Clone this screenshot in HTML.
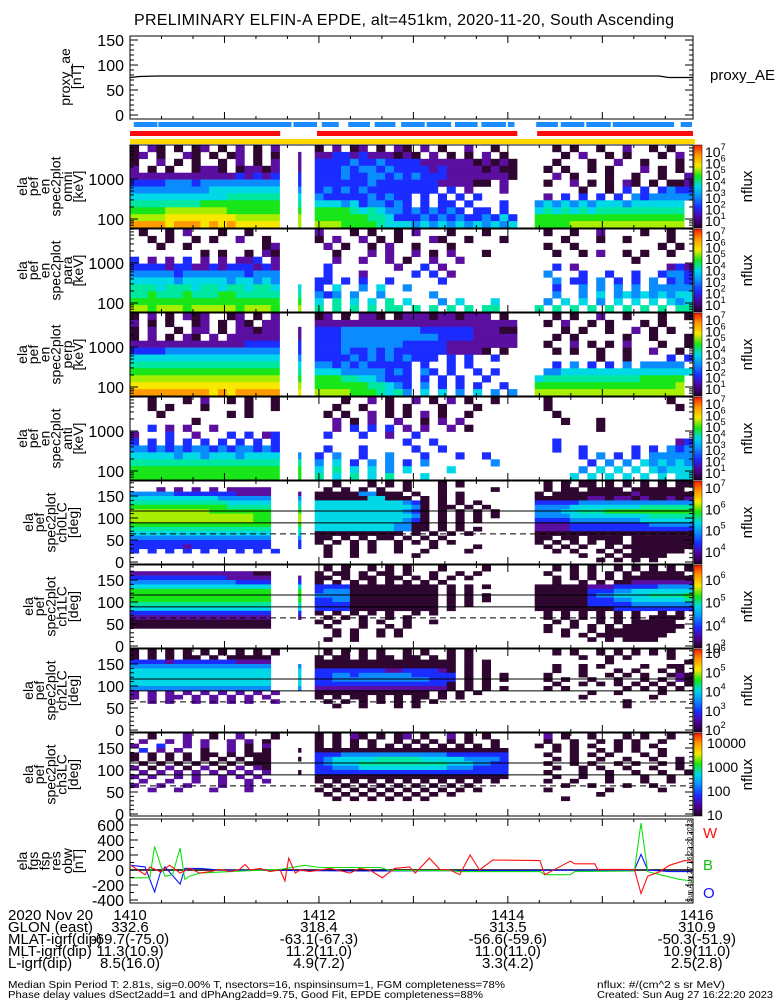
<!DOCTYPE html>
<html><head><meta charset="utf-8">
<style>
html,body{margin:0;padding:0;background:#fff;}
svg{display:block;font-family:"Liberation Sans",sans-serif;}
text{fill:#000;}
</style></head>
<body>
<svg id="chart" width="775" height="1000" viewBox="0 0 775 1000" xmlns="http://www.w3.org/2000/svg">
<rect x="0" y="0" width="775" height="1000" fill="#fff"/>
<text x="404" y="25" font-size="16" text-anchor="middle" textLength="540">PRELIMINARY ELFIN-A EPDE, alt=451km, 2020-11-20, South Ascending</text>
<g id="g"></g>
</svg>
<script>
// ---- data ----
const timeTicks = ["1410","1412","1414","1416"];
const timeTickMin = [0,2,4,6];
const proxyT = [0,0.1,0.3,5.6,5.7,5.96];
const proxyV = [75,77,78,78,75,75];
const blueBarStart = [0.04,0.30,1.73,2.03,2.31,2.59,2.87,3.14,3.44,3.72,4.00,4.30,4.56,4.83,5.11,5.83];
const blueBarEnd   = [0.29,1.71,1.98,2.21,2.54,2.81,3.12,3.40,3.68,3.98,4.07,4.53,4.81,5.09,5.76,5.95];
const redBarStart = [0,1.98,4.31];
const redBarEnd = [1.59,4.10,5.96];
const redT = [0.01,0.16,0.21,0.32,0.42,0.53,0.63,0.74,0.85,0.95,1.06,1.16,1.22,1.27,1.38,1.48,1.59,1.64,1.68,1.75,1.80,1.90,2.12,2.33,2.43,2.54,2.67,2.80,2.96,3.02,3.17,3.28,3.39,3.49,3.60,3.70,3.84,4.34,4.39,4.66,4.71,4.92,4.95,5.13,5.34,5.41,5.48,5.61,5.71,5.87,5.95];
const redV = [63,-63,42,-21,63,-42,21,-42,-21,8,-21,8,75,0,21,-21,0,-146,158,-42,0,-21,21,-42,21,0,-104,21,42,-42,158,8,0,-63,200,0,133,125,-63,117,83,83,8,8,8,-313,-83,-21,63,125,117];
const greenT = [0.01,0.21,0.26,0.32,0.37,0.45,0.53,0.58,0.63,0.74,1.06,1.59,1.85,2.01,2.65,2.75,3.39,3.49,4.34,4.39,4.66,4.71,5.34,5.41,5.48,5.61,5.82,5.95];
const greenV = [-104,-104,313,83,-83,-63,292,-125,-83,-42,-21,8,63,33,33,-8,-8,-21,-21,-63,-63,-21,-13,625,-21,-63,-125,-146];
const blueT = [0.01,0.16,0.26,0.32,0.37,0.53,0.58,0.74,0.95,1.80,2.33,5.34,5.41,5.48,5.71,5.95];
const blueV = [63,42,-292,-42,42,-188,21,21,0,-8,-13,0,208,0,-21,-21];
const energyTickLabels = ["1000","100"];
const energyTickVals = [1000,100];
const paTickLabels = ["150","100","50","0"];
const paTickVals = [150,100,50,0];
const fgsTickVals = [600,400,200,0,-200,-400];
// heatmap grids: rows top->bottom, "seg1|thin|seg2|seg3", chars = color level
const omni = [
"1.21.1.12.1.2.1.2|.|1.2.12.1.21.2.1..2..1.|..1.1..1..2..1.1.",
"12.1..21.1.12.1.1|2|223323222121.2.1.1.2.1|...1.2..1.1...1.2",
"1..2.1.1..1.2.1.2|2|33334334333322222212121|..1...1..2..1...1",
"2.1.1..1221.12212|2|33343443433332322221211|.1.1..1.1...2.1.1.",
"22222222222232323|3|33343344343433322222221|..2.1...1..1..1..2",
"33334443444444444|3|33333343333333222211.2.|.1..2.1.1.21.1.112",
"44444444455555555|4|34343433333333.3.2...2.|.....1..1.3.3.3433",
"55555555555666666|5|43333343433.3.3.3.3....|.2.3.3.3.3.4344444",
"66666666777777777|6|55545344343.3.33.3...3.|45454545554555555",
"77778888888777777|7|77776565443434343.33.3.|56565656666666666",
"88889999999988888|8|77777766533343434334353|77777777777777777",
"aaaa9aaa9a9a99999|8|88877776555454545454545|77778888888888888"];
const para = [
".1..1.2...1..1...|.|2...1.1..1.2...1...1..|.1..1..2....1..1.",
"..1.1..1.1..2..1.|.|1.2..2.1.1...21..1...1.|...1...1..1....1..",
"...1..1........12|.|.2.1..1.2..1...1.......|.1..1.........1.1",
"........1.1..1.21|.|..1...2.2..2.1.2...1...|..1..1.2..1.1..1..",
"3.2.2.3.2.2.223.2|.|..2..2..2.1..2..2......|...........1......",
"33332332232333232|.|.3.......2..3.2.......|..3.2..........232",
"44444344444443444|.|.3...2.....3.3.2......|.4...3..3..3..3443",
"55555455555455454|.|33.3.3..3.....3......|..4.33.4.3.3.4.343",
"66656665665665665|5|3.5..4.5..4..........|..3..4.4.4.4.44444",
"66766676667766666|6|434.4..4.....4.......|..4..4.5.454545455",
"77777777777777777|7|5.6.5.5.6.5...4.5...5.|.4.5.5.4.5.5.5.545",
"88788878888878887|8|6.6.6.6.66.6.6.6.6.66.|6.6.6.6.6.6.6.6.66"];
const perp = [
"1.2.1.212..12.1.2|.|12.1.221.12221221222.1.|..1.1..2..1...1..1",
"2.1.1..12.1.21.22|.|22222222222222222222222.|.1.2..1.1...1.1...",
"1.2..1.22.1.22122|2|33344444444433333322211.|...1.1..1..2.1.1..",
"1.2.1.21.2.222222|2|33344444444444333322222|..1.1.....1..1...1",
"22222222222223333|3|33344444443333322222222|.1..2.1.1.2...1..1",
"33334444444444444|3|33343343433333322221.1.|..1.1..1..1..2..1.",
"55555555555555555|4|33334343434333.3.3..3..|.......1..1....3.3",
"66666666666666666|5|44343433333.3..3.3.....|..3.4.3.3.4.44444",
"77777777777777777|6|55544444343.43.3..3.3..|.44555555555555555",
"88888888888888888|7|77766554333.3.3.3..3...|56666666666677777",
"99999999999999999|8|77777766543.4.3.3.3..3.|77777777777777778",
"aaaaaaaaa9a9aaaaa|9|88887776564.5.5.4.5.4.4|88888888888888888"];
const anti = [
"..1...1.2..1.1..1|.|...1..2.1..2.1.2.1..1..|.1.............1..",
"..1.1...1....1..1|.|..1..1..1.1...1...1....|.1..............1.",
"...1.......1.1...|.|.1.1..2.1.1.2.1..1.....|..1...............",
".......1.........|.|..2.1.2..2..1.2.2.......|...1...1..........",
"..3.2.2..2.......|.|..2.3.3.3.2.2..2.1.....|.......1..........",
"2...3..2...3.3.23|.|.3...3..2..3...........|..................",
"3.3.3.3.3.3.3.3.3|.|..........3..3.........|..3.............23",
"44343434434344343|.|.3...3.....3..3.......|..3..3.....3.3.434",
"55555455455545555|4|3.4..3..4...3...3..3..|.....3.4.3.3.44444",
"66666666666666666|6|4.5.3.4.4.3.4.......4.|......3.4.4.545454",
"77777777777777777|7|5.6.5.5.4.5....5......|.....4.5.5.5.54555",
"77777777777777777|7|6.5.6.5.6...5.........|....5.5.5.5.5.5.55"];
const ch0 = [
".................|.|..1...1.1.1...1.1.....|.1.1.11.1.1.1.1.11",
"...2.2.2.2.22222|.|.1.1.1.1..1...1.....1.|.1.11.1111.111111",
"4444433333332222|2|1111144111.1..1.1.....|1.11111111121111111",
"5555555555444444|4|11111155111.1.1.1.....|111111221221211212",
"6666666666655555|5|5555555555431.1.1.1...|3333344444444444444",
"7777777777766666|6|5555555555541.11.1.1..|4444555555556666666",
"8888888887777777|7|5555555555431.1.1.1.1.|4445566677777777776",
"8888888888888877|8|5555555555541.1.1.1.1.|4444555555555666666",
"8888888888888877|8|5555555555431.1.1.1...|3333444444445555555",
"7777777777777777|7|5555555554411.1.1.....|2222333333333444444",
"6666666666666666|6|5555555554411.1.1.1...|2222333333333333333",
"5555555555555555|5|1111111111.1.1.1.1....|1111111111111111111",
"4444444444444444|4|11.1.1.11.1.1.1.......|11.11.1111.11111111",
"3333333333333333|3|1.1.1.1..1.1.1.1......|1.1.1.1.11.11111111",
"3333332333333333|3|.1..1.1..1...1....1...|.1.1.1..1.11111111",
"3.3.3.3.3.3.3.3.3|.|.1..1.1..1..1....1...|..1.1..1.1.111111",
"|.|.1..1......1.......|.....1..1.11111",
"|.|....................|.......1.1.1.1"];
const ch1 = [
"|.|.1.1..1.1.1...1....1.|..1.1.1..1.1.1.1.1",
"2222222222222211|.|1.11.1.11.1..1..1.1...|.1..1.1.1.1.11111",
"3333333333322222|2|11.1.11.11.1.1.1.1....|..1.1.1.1.11111111",
"4444444444443333|3|1.1.1.1.1.1.1.1.......|..1..1.1.1122222222",
"5555555555555555|5|33331111111111.1.1.1..|1111112223333344444",
"7777777777777777|7|34441111111111.1.1....|111111333445555555",
"7777777777777777|7|44441111111111.1.1.1..|111111344555566667",
"7777777777777777|7|33441111111111.1.1.1..|111111333445555556",
"6666666666666666|6|33331111111111.1.1....|111111333334444444",
"5555555555555555|5|33331111111111.1......|1111111113333333333",
"3333333333333333|3|1.1.1.1.1..1.1.......|.1.1.1.1.1.1..1.1.1",
"2222222222222222|2|.1.1.1..1.1..........|.1.1.1.1.1.1.1111",
"1111111111111111|.|1.1..1.1..1..1.......|..1.1..1.1.11111",
"1111111111111111|.|.1...1..1.1..........|.1..1.1.1.1111111",
"|.|..1.1..1.1.........|.1.1..1.11111111",
"|.|..1.1..1.1.........|...1.1.11111111",
"|.|.1..1..............|......1.1.1111",
"|.||"];
const ch2 = [
"1.1.1.1.1.1.1.1.1|.|.1.1.1.1..1.1..1.1..|..1.1..1.1.1.1.1.",
"1.1.1.11.1.11111|.|1.11.1.11.11.1.1.1..|.....1..1.1....1.",
"3333233333332222|.|1111111111111111.1.1..|........1........1",
"4444444444444444|4|1111111111111111.1.1..|..1..1.1....1..11",
"5555555555555555|5|3333333322333321.1.1..|..1..1...1.1..1.1.1",
"5555555555555555|5|3344344444433333.1.1.1.|.1...1..1.1.1..121",
"5555555555555555|5|3344444444444333.1.1.1.|.1.1..1..1..1.1.21",
"5555555555555555|5|3333333333333331.1.1..|..1..1.1.1.1.1.1.1",
"4444444444444444|4|2222222222222221.1.1.1.|.1.1......1.1.1.1",
"2.2.2.2.2.2.2.2.2|.|1111111111111.1.1.1..|......1..1....1.",
"2.2.22.2.2.2.2.2|.|1.1.11.1.1.11.1.1....|.....1.......1..",
"..2.2..2.2.2.2..2|.|.1.1.1.1.1.1.1........|..........1......",
"|.|..1..1...1.1.......|..........1.....",
"|.||","|.||","|.||","|.||","|.||"];
const ch3 = [
"..1...2..1..2...1|.|1.1.21.1.12.1..2.1.1.|.2.1..1...1.1..1",
".2..2.2.2..2.2.1|.|1.1.1.1..1.1.1.1.1..1.|.1..1..1.1.1..1.",
"2..3..2.2..2.1.2|.|1.1.1.1.1.1.1.1.1.1.1.|1.1.1.1..1.1.1",
".3.2.2..1..2.1.1|1|1111111111111111111111.|..1.1..1.1.1..1",
"1.1.1.1.11.1.111|.|3334444444444443333333.|.1..1.1.1...1.1.",
"1.1.1.1.1.1.1.11|1|3455555666665555544443.|..1.1..1..1..1..1",
".1.1.1.1.1.1.111|.|3455566666666665554433.|.1..1.1..1.1..1.1",
"2.1.2.1.2.1.2.21|.|3344455555555554443333.|..1..1.1..1..1..1.",
".2.2.2.2.2.2.2.2|1|3333333333333333333333.|.1...1..1..1..1..1",
"2.2..2.2..2.2.2.|.|1111111111111111111111.|..1..1..1...1..1.",
".2..2..2..2..2.2|.|1.1.1.1.1.1.1.1.1.1.1.|.1..1...1...1..1..",
"2..2..2...2..2..|.|.1.1.1.1.1.1.1.1.1...|...1..1...1..1...",
"..2..2...2...2..|.|1.1.1.1.1.1.1.1.1.1...|.1......1.....1.",
"|.|.1.1.1.1.1.1.1.1....|.......1........",
"|.|..1.1.1.1.1.1.......|...1............",
"|.||","|.||","|.||"];
const cbLabels1 = ["7","6","5","4","3","2","1"];
const cbLabels5 = ["7","6","5","4"];
const cbLabels6 = ["6","5","4","3"];
const cbLabels7 = ["6","5","4","3","2"];
const cbLabels8 = ["10000","1000","100","10"];

// ---- layout ----
const NS="http://www.w3.org/2000/svg";
const G=document.getElementById('g');
const X0=130,X1=693,TMAX=5.96;
const xs=t=>X0+t*(X1-X0)/TMAX;
const NCOL=64, dtCol=TMAX/NCOL;
const colors={'1':'#2e0630','2':'#5a0fa0','3':'#1a2cff','4':'#0a8cff','5':'#00d8e8','6':'#00e8a0','7':'#18e618','8':'#a8ee00','9':'#f8e800','a':'#ff9a00','b':'#ff1a00'};
function mk(tag,a,parent){const e=document.createElementNS(NS,tag);for(const k in a)e.setAttribute(k,a[k]);(parent||G).appendChild(e);return e;}
function txt(x,y,s,size,anchor,extra){const e=mk('text',Object.assign({x:x,y:y,'font-size':size,'text-anchor':anchor||'start'},extra||{}));e.textContent=s;return e;}

// proxy_ae panel
const PY0=36,PY1=119;
const py=v=>115-v*0.5;
let e=mk('rect',{x:X0,y:PY0,width:X1-X0,height:PY1-PY0,fill:'none',stroke:'#000','stroke-width':1});


e=mk('polyline',{points:proxyT.map((t,i)=>xs(t)+','+py(proxyV[i])).join(' '),fill:'none',stroke:'#000','stroke-width':1.2});


[0,50,100,150].forEach(v=>{
  mk('line',{x1:X0,x2:X0+8,y1:py(v),y2:py(v),stroke:'#000'});
  mk('line',{x1:X1-8,x2:X1,y1:py(v),y2:py(v),stroke:'#000'});
  const t=txt(124,py(v)+6,String(v),16,'end');
  
  
});
for(let v=10;v<150;v+=10){if(v%50){mk('line',{x1:X0,x2:X0+4,y1:py(v),y2:py(v),stroke:'#000'});mk('line',{x1:X1-4,x2:X1,y1:py(v),y2:py(v),stroke:'#000'});}}
e=txt(710,80,'proxy_AE',15);



function ylabel(lines,cy,x0,name){
  const g=mk('g',{});
  
  
  lines.forEach((s,i)=>{const x=x0+i*11.2;mk('text',{x:x,y:cy,'font-size':14,'text-anchor':'middle',transform:'rotate(-90 '+x+' '+cy+')'},g).textContent=s;});
}
ylabel(['proxy_ae','[nT]'],77,70,'proxy-ae-y-title');

// status bars
blueBarStart.forEach((s,i)=>{const r=mk('rect',{x:xs(s),y:122,width:xs(blueBarEnd[i])-xs(s),height:5,fill:'#1a8cff'});

});
redBarStart.forEach((s,i)=>{const r=mk('rect',{x:xs(s),y:131,width:xs(redBarEnd[i])-xs(s),height:5,fill:'#ff0a0a'});

});
e=mk('rect',{x:X0,y:139,width:X1-X0+2,height:5,fill:'#ffd800'});



function timeTicksOn(top,bot){
  for(let s=0;s<=358;s+=20){const x=xs(s/60);const L=(s%60===0)?7:3;
    mk('line',{x1:x,x2:x,y1:bot,y2:bot-L,stroke:'#000'});mk('line',{x1:x,x2:x,y1:top,y2:top+L,stroke:'#000'});}
}
timeTicksOn(PY0,PY1);

function drawGrid(grid,top,h,rowY,name){
  const cg=mk('g',{});
  
  
  const starts=[0,19,21,46];
  grid.forEach((row,r)=>{
    const segs=row.split('|');const y0=rowY(r),y1=rowY(r+1);
    segs.forEach((sg,k)=>{
      for(let i=0;i<sg.length;i++){const ch=sg[i];if(!colors[ch])continue;
        let j=i;while(j+1<sg.length&&sg[j+1]===ch)j++;
        const c=starts[k]+i;
        let x=xs(c*dtCol),w=xs((starts[k]+j+1)*dtCol)-x;
        if(k===1){x=x+1;w=3;}
        const rc=mk('rect',{x:x.toFixed(1),y:y0.toFixed(1),width:(w+0.3).toFixed(1),height:(y1-y0+0.3).toFixed(1),fill:colors[ch]},cg);
        
        
        i=j;}
    });
  });
}
function colorbar(top,h,labels,isPow,o0,o1){
  const gid='cb'+top;
  const defs=mk('defs',{});
  const lg=mk('linearGradient',{id:gid,x1:0,y1:1,x2:0,y2:0},defs);
  ['#200020','#50009a','#1a2cff','#0a8cff','#00d8e8','#18e618','#f8e800','#ff9a00','#ff1a00'].forEach((c,i,a)=>mk('stop',{offset:i/(a.length-1),'stop-color':c},lg));
  const r=mk('rect',{x:694,y:top,width:8,height:h,fill:'url(#'+gid+')',stroke:'#000','stroke-width':0.5});
  
  
  const n=labels.length;
  const step=(o1-o0)/(n-1);
  labels.forEach((l,i)=>{const y=top+o0+i*step;
    let t;
    if(isPow){t=txt(705,y+6,'10',14);const sp=mk('tspan',{dy:-7,'font-size':9},t);sp.textContent=l;}
    else t=txt(707,y+5,l,14);
    
    
  });
  const ty=top+h/2;
  const nt=mk('text',{x:752,y:ty,'font-size':15,'text-anchor':'middle',transform:'rotate(-90 752 '+ty+')'});
  nt.textContent='nflux';
  
  
}

const tops=[145,229,313,397,481,565,649,733];const H=83;
const eGrids=[omni,para,perp,anti];
const eNames=['omni','para','perp','anti'];
eGrids.forEach((gr,p)=>{
  const top=tops[p];
  const ey=E=>top+74-40*Math.log10(E/100);
  drawGrid(gr,top,H,r=>top+r*H/gr.length,'spectrogram-'+eNames[p]);
  const f=mk('rect',{x:X0,y:top,width:X1-X0,height:H,fill:'none',stroke:'#000'});
  
  
  [60,70,80,90,100,200,300,400,500,600,700,800,900,1000,2000,3000,4000,5000,6000,7000].forEach(E=>{const y=ey(E);if(y<top||y>top+H)return;const L=(E===100||E===1000)?8:4;
    mk('line',{x1:X0,x2:X0+L,y1:y,y2:y,stroke:'#000'});mk('line',{x1:X1-L,x2:X1,y1:y,y2:y,stroke:'#000'});});
  energyTickVals.forEach((E,i)=>{const t=txt(124,ey(E)+6,energyTickLabels[i],16,'end');
    
    });
  timeTicksOn(top,top+H);
  ylabel(['ela','pef','en','spec2plot',eNames[p],'[keV]'],top+H/2,27,'y-title-'+eNames[p]);
  colorbar(top,H,cbLabels1,true,6,75);
});
const pGrids=[ch0,ch1,ch2,ch3];
const pNames=['ch0LC','ch1LC','ch2LC','ch3LC'];
const pCb=[cbLabels5,cbLabels6,cbLabels7,cbLabels8];
const pCbOff=[[6,70],[14,82],[3,80],[10,82]];
pGrids.forEach((gr,p)=>{
  const top=tops[4+p];
  const dy=d=>top+H-2-d*0.44;
  drawGrid(gr,top,H,r=>r===0?top:dy(180-r*10),'pitch-angle-'+pNames[p]);
  [116,89].forEach(d=>{const l=mk('line',{x1:X0,x2:X1,y1:dy(d),y2:dy(d),stroke:'#000','stroke-width':1});
    
    });
  const l=mk('line',{x1:X0,x2:X1,y1:dy(64),y2:dy(64),stroke:'#000','stroke-width':1,'stroke-dasharray':'6,4'});
  
  
  const f=mk('rect',{x:X0,y:top,width:X1-X0,height:H,fill:'none',stroke:'#000'});
  
  
  for(let d=0;d<=180;d+=10){const L=d%50===0?8:4;mk('line',{x1:X0,x2:X0+L,y1:dy(d),y2:dy(d),stroke:'#000'});mk('line',{x1:X1-L,x2:X1,y1:dy(d),y2:dy(d),stroke:'#000'});}
  paTickVals.forEach((d,i)=>{const t=txt(124,dy(d)+6,paTickLabels[i],16,'end');
    
    });
  timeTicksOn(top,top+H);
  ylabel(['ela','pef','spec2plot',pNames[p],'[deg]'],top+H/2,33,'y-title-'+pNames[p]);
  colorbar(top,H,pCb[p],p<3,pCbOff[p][0],pCbOff[p][1]);
});

// fgs residual panel
const FT=819,FB=903;
const fy=v=>870-v*0.075;
const cg=mk('g',{'clip-path':'url(#fclip)'});
const cp=mk('clipPath',{id:'fclip'});mk('rect',{x:X0,y:FT,width:X1-X0,height:FB-FT},cp);


e=mk('line',{x1:X0,x2:X1,y1:fy(0),y2:fy(0),stroke:'#000','stroke-width':1.5},cg);


[[blueT,blueV,'#0a18ff','blue-O-line'],[greenT,greenV,'#10e010','green-B-line'],[redT,redV,'#ff1010','red-W-line']].forEach(s=>{
  const pl=mk('polyline',{points:s[0].map((t,i)=>xs(t).toFixed(1)+','+fy(s[1][i]).toFixed(1)).join(' '),fill:'none',stroke:s[2],'stroke-width':1.1},cg);
  
  
});
e=mk('rect',{x:X0,y:FT,width:X1-X0,height:FB-FT,fill:'none',stroke:'#000'});


for(let v=-400;v<=600;v+=100){const L=v%200===0?8:4;mk('line',{x1:X0,x2:X0+L,y1:fy(v),y2:fy(v),stroke:'#000'});mk('line',{x1:X1-L,x2:X1,y1:fy(v),y2:fy(v),stroke:'#000'});}
fgsTickVals.forEach(v=>{const t=txt(124,fy(v)+6,String(v),16,'end');
  
  });
timeTicksOn(FT,FB);
ylabel(['ela','fgs','fsp','res','obw','[nT]'],FT+42,27,'fgs-y-title');
[['W',838,'#ff1010'],['B',870,'#10c010'],['O',898,'#1010ff']].forEach(s=>{const t=txt(703,s[1],s[0],15,'start',{style:'fill:'+s[2]});
  
  });
e=mk('text',{x:692,y:861,'font-size':7,'text-anchor':'middle',transform:'rotate(-90 692 861)'});
e.textContent='Sun Aug 27 16:22:20 2023';



// ephemeris table
const rowsY=[920,932,944,956,968];
const rowNames=['2020 Nov 20','GLON (east)','MLAT-igrf(dip)','MLT-igrf(dip)','L-igrf(dip)'];
const cols=[timeTicks,['332.6','318.4','313.5','310.9'],['-69.7(-75.0)','-63.1(-67.3)','-56.6(-59.6)','-50.3(-51.9)'],['11.3(10.9)','11.2(11.0)','11.0(11.0)','10.9(11.0)'],['8.5(16.0)','4.9(7.2)','3.3(4.2)','2.5(2.8)']];
rowNames.forEach((n,r)=>{
  const t=txt(8,rowsY[r],n,15);
  
  
  cols[r].forEach((v,i)=>{const vt=txt(xs(timeTickMin[i]),rowsY[r],v,15,'middle');
    
    });
});
[['Median Spin Period T: 2.81s, sig=0.00% T, nsectors=16, nspinsinsum=1, FGM completeness=78%',8,988,497],
 ['Phase delay values dSect2add=1 and dPhAng2add=9.75, Good Fit, EPDE completeness=88%',8,998,475],
 ['nflux: #/(cm^2 s sr MeV)',597,988,128],
 ['Created: Sun Aug 27 16:22:20 2023',597,998,176]].forEach(f=>{
  const t=txt(f[1],f[2],f[0],10.5,'start',{textLength:f[3],lengthAdjust:'spacingAndGlyphs'});
  
  
});
</script>
</body></html>
